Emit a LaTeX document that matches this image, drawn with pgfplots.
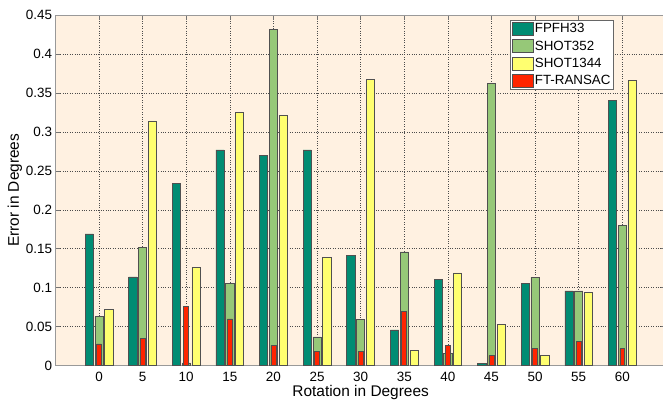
\documentclass[border=0pt]{standalone}
\usepackage{fontspec}
\setmainfont{Liberation Sans}
\usepackage{pgfplots}
\usepackage{pgfplotstable}
\pgfplotsset{compat=1.18}
\definecolor{cFPFH}{RGB}{0,140,115}
\definecolor{cSHOTa}{RGB}{150,200,120}
\definecolor{cSHOTb}{RGB}{255,255,112}
\definecolor{cRANSAC}{RGB}{255,36,0}
\definecolor{cBG}{RGB}{255,241,225}
\definecolor{cEdge}{RGB}{80,80,80}
\pgfplotstableread{
x FPFH SHOTa SHOTb RANSAC
0  0.169  0.063  0.072  0.028
5  0.114  0.152  0.314  0.035
10 0.234  0.0035 0.1265 0.076
15 0.277  0.106  0.325  0.060
20 0.270  0.432  0.321  0.026
25 0.277  0.037  0.139  0.018
30 0.142  0.059  0.3675 0.018
35 0.046  0.146  0.020  0.070
40 0.111  0.0154 0.119  0.0256
45 0.0026 0.362  0.0526 0.0128
50 0.1056 0.1137 0.0128 0.022
55 0.096  0.096  0.0944 0.0316
60 0.340  0.180  0.366  0.0218
}\datatable
\pgfplotsset{
  mybar/.style={ybar, draw=cEdge, line width=0.6bp,
    legend image code/.code={\draw[##1, line width=0.6bp] (0bp,-6.6bp) rectangle (20.7bp,6.6bp);}},
}
\begin{document}
\begin{tikzpicture}
\begin{axis}[
  scale only axis,
  width=610.5bp, height=350.7bp,
  xmin=-5, xmax=65, ymin=0, ymax=0.45,
  xtick={0,5,...,60},
  ytick={0,0.05,...,0.45},
  scaled y ticks=false,
  /pgf/number format/assume math mode=true,
  yticklabel style={/pgf/number format/fixed, /pgf/number format/precision=2, inner sep=0pt, xshift=-3.1bp},
  xticklabel style={inner sep=0pt, yshift=-6.3bp},
  tick label style={font=\fontsize{13.5}{16}\selectfont},
  tick align=inside,
  major tick length=5bp,
  tick style={black!55, line width=0.6bp},
  axis line style={black!40, line width=0.8bp},
  axis background/.style={fill=cBG},
  grid=major,
  major grid style={dotted, black!70, line width=0.6bp},
  xlabel={Rotation in Degrees},
  ylabel={Error in Degrees},
  every axis x label/.style={at={(axis description cs:0.5,0)}, anchor=north, inner sep=0pt, yshift=-19.6bp, font=\fontsize{15.5}{18}\selectfont},
  every axis y label/.style={at={(axis description cs:-0.0662,0.5)}, anchor=center, rotate=90, inner sep=0pt, font=\fontsize{15.5}{18}\selectfont},
  legend cell align=left,
  legend style={at={(axis description cs:1,1)}, anchor=north east, xshift=-51.9bp, yshift=-5bp,
    draw=black!60, fill=white, line width=0.6bp, font=\fontsize{13.4}{15}\selectfont,
    inner xsep=2bp, inner ysep=1.5bp, row sep=3.6bp,
    nodes={inner xsep=1.2bp, inner ysep=1.5bp}},
]
\addplot[mybar, fill=cFPFH, bar width=0.94, bar shift=-1.12] table[x=x, y=FPFH] {\datatable};
\addplot[mybar, fill=cSHOTa, bar width=0.94, bar shift=0] table[x=x, y=SHOTa] {\datatable};
\addplot[mybar, fill=cSHOTb, bar width=0.94, bar shift=1.12] table[x=x, y=SHOTb] {\datatable};
\addplot[mybar, fill=cRANSAC, bar width=0.57, bar shift=0] table[x=x, y=RANSAC] {\datatable};
\legend{FPFH33, SHOT352, SHOT1344, FT-RANSAC}
\end{axis}
\pgfresetboundingbox
\path ([shift={(-55.4bp,-35.3bp)}]current axis.south west) rectangle ([shift={(-2.9bp,15bp)}]current axis.north east);
\end{tikzpicture}
\end{document}
